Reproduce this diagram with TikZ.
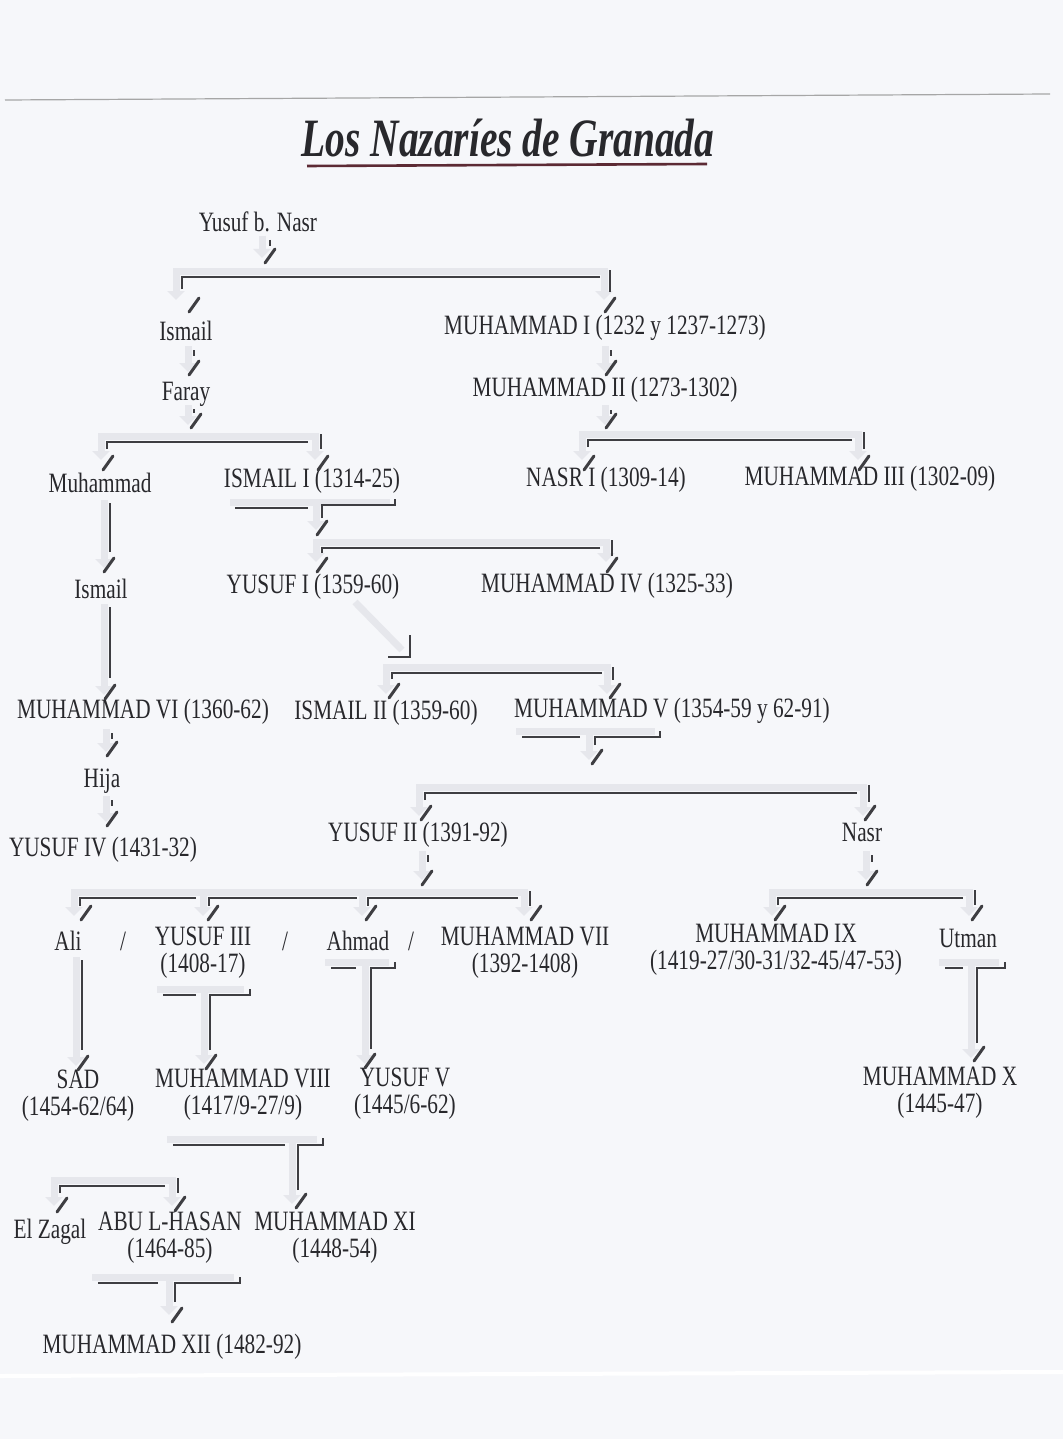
\documentclass[tikz,border=0pt]{standalone}
\usepackage{fontspec}
\setmainfont{Liberation Serif}[FakeStretch=0.76]
\newfontfamily\titlefont{Liberation Serif}[FakeStretch=0.73]
\usetikzlibrary{arrows.meta}
\definecolor{paper}{RGB}{246,247,250}
\definecolor{ink}{RGB}{40,40,44}
\definecolor{linec}{RGB}{62,62,66}
\definecolor{shc}{RGB}{230,231,236}
\definecolor{ulc}{RGB}{92,42,52}
\newcommand\slmark[1]{\draw[slashmark] (#1) ++(-5,7) -- ++(10,-14);}
\begin{document}
\begin{tikzpicture}[x=1pt,y=-1pt,
  person/.style={inner sep=0pt, text=ink, font=\fontsize{28}{27}\selectfont, align=center},
  link/.style={draw=linec, line width=2.2pt},
  tickmark/.style={draw=linec, line width=2pt},
  slashmark/.style={draw=linec, line width=3pt, line cap=round},
  shadow/.style={draw=shc, line width=7pt, {Triangle[length=9pt,width=17pt]}-{Triangle[length=9pt,width=17pt]}},
  shadowend/.style={draw=shc, line width=7pt, -{Triangle[length=9pt,width=17pt]}},
  shadowline/.style={draw=shc, line width=7pt},
]
\useasboundingbox (0,0) rectangle (1063,1439);
\fill[paper] (0,0) rectangle (1063,1439);
\draw[gray!70, line width=1.2pt] (5,100) -- (1050,94);
\draw[white, line width=4pt] (0,1376) -- (1063,1372);

% ---------- title ----------
\node[inner sep=0pt, text=ink, font=\titlefont\fontsize{54}{56}\selectfont\bfseries\itshape] (title) at (508,138) {Los Nazaríes de Granada};
\draw[ulc, line width=2.6pt] (307,166) -- (707,164);

% ---------- shadows ----------
\draw[shadowend] (262,236) -- (262,258);
\draw[shadow] (176,300) -- (176,271) -- (604,271) -- (604,300);
\draw[shadowend] (188,346) -- (188,372);
\draw[shadowend] (605,346) -- (605,372);
\draw[shadowend] (188,405) -- (188,425);
\draw[shadowend] (605,405) -- (605,425);
\draw[shadow] (101,460) -- (101,436) -- (315,436) -- (315,460);
\draw[shadow] (582,460) -- (582,434) -- (858,434) -- (858,460);
\draw[shadowline] (230,502) -- (390,502);
\draw[shadowend] (316,502) -- (316,530);
\draw[shadow] (316,562) -- (316,542) -- (606,542) -- (606,562);
\draw[shadowend] (104,500) -- (104,568);
\draw[shadowend] (104,604) -- (104,695);
\draw[shadowline] (355,602) -- (402,650);
\draw[shadow] (386,694) -- (386,667) -- (607,667) -- (607,694);
\draw[shadowend] (106,729) -- (106,752);
\draw[shadowend] (106,796) -- (106,822);
\draw[shadowline] (516,731) -- (655,731);
\draw[shadowend] (589,731) -- (589,760);
\draw[shadow] (419,816) -- (419,787) -- (863,787) -- (863,816);
\draw[shadowend] (422,851) -- (422,880);
\draw[shadowend] (866,851) -- (866,880);
\draw[shadow] (74,916) -- (74,892) -- (524,892) -- (524,916);
\draw[shadowend] (203,892) -- (203,916);
\draw[shadowend] (362,892) -- (362,916);
\draw[shadow] (772,916) -- (772,892) -- (969,892) -- (969,916);
\draw[shadowend] (76,957) -- (76,1066);
\draw[shadowline] (157,989) -- (244,989);
\draw[shadowend] (204,989) -- (204,1064);
\draw[shadowline] (325,962) -- (389,962);
\draw[shadowend] (365,962) -- (365,1064);
\draw[shadowline] (939,962) -- (999,962);
\draw[shadowend] (971,962) -- (971,1058);
\draw[shadowline] (167,1139) -- (317,1139);
\draw[shadowend] (292,1139) -- (292,1204);
\draw[shadow] (54,1206) -- (54,1180) -- (172,1180) -- (172,1206);
\draw[shadowline] (92,1277) -- (234,1277);
\draw[shadowend] (169,1277) -- (169,1315);

% ---------- persons ----------
\node[person] (yusufbn) at (258,222) {Yusuf b. Nasr};
\node[person] (ismailA) at (186,331) {Ismail};
\node[person] (muh1) at (605,328) {MUHAMMAD I (1232 y 1237-1273)};
\node[person] (faray) at (186,394) {Faray};
\node[person] (muh2) at (605,390) {MUHAMMAD II (1273-1302)};
\node[person] (muhammad) at (100,483) {Muhammad};
\node[person] (ismailI) at (312,481) {ISMAIL I (1314-25)};
\node[person] (nasrI) at (606,480) {NASR I (1309-14)};
\node[person] (muh3) at (870,479) {MUHAMMAD III (1302-09)};
\node[person] (ismailB) at (101,589) {Ismail};
\node[person] (yusufI) at (313,587) {YUSUF I (1359-60)};
\node[person] (muh4) at (607,586) {MUHAMMAD IV (1325-33)};
\node[person] (muh6) at (143,712) {MUHAMMAD VI (1360-62)};
\node[person] (ismailII) at (386,713) {ISMAIL II (1359-60)};
\node[person] (muh5) at (672,711) {MUHAMMAD V (1354-59 y 62-91)};
\node[person] (hija) at (102,781) {Hija};
\node[person] (yusufIV) at (103,850) {YUSUF IV (1431-32)};
\node[person] (yusufII) at (418,835) {YUSUF II (1391-92)};
\node[person] (nasr) at (862,832) {Nasr};
\node[person] (ali) at (68,941) {Ali};
\node[person] (sepA) at (123,941) {/};
\node[person] (yusufIII) at (203,953) {YUSUF III\\(1408-17)};
\node[person] (sepB) at (285,941) {/};
\node[person] (ahmad) at (358,941) {Ahmad};
\node[person] (sepC) at (411,941) {/};
\node[person] (muh7) at (525,953) {MUHAMMAD VII\\(1392-1408)};
\node[person] (muh9) at (776,950) {MUHAMMAD IX\\(1419-27/30-31/32-45/47-53)};
\node[person] (utman) at (968,938) {Utman};
\node[person] (sad) at (78,1096) {SAD\\(1454-62/64)};
\node[person] (muh8) at (243,1095) {MUHAMMAD VIII\\(1417/9-27/9)};
\node[person] (yusufV) at (405,1094) {YUSUF V\\(1445/6-62)};
\node[person] (muh10) at (940,1093) {MUHAMMAD X\\(1445-47)};
\node[person] (elzagal) at (50,1232) {El Zagal};
\node[person] (abu) at (170,1238) {ABU L-HASAN\\(1464-85)};
\node[person] (muh11) at (335,1238) {MUHAMMAD XI\\(1448-54)};
\node[person] (muh12) at (172,1347) {MUHAMMAD XII (1482-92)};

% ---------- slash marks (arrival points) ----------
\coordinate (s-yusufbn) at (270,256);
\coordinate (s-ismailA) at (194,305);
\coordinate (s-muh1) at (610,305);
\coordinate (s-faray) at (194,368);
\coordinate (s-muh2) at (611,368);
\coordinate (s-farayout) at (196,421);
\coordinate (s-muh2out) at (611,421);
\coordinate (s-muhammad) at (108,463);
\coordinate (s-ismailI) at (323,463);
\coordinate (s-nasrI) at (589,463);
\coordinate (s-muh3) at (864,463);
\coordinate (s-ismailIout) at (322,528);
\coordinate (s-yusufI) at (322,565);
\coordinate (s-muh4) at (612,565);
\coordinate (s-ismailB) at (109,565);
\coordinate (s-muh6) at (110,692);
\coordinate (s-ismailII) at (394,691);
\coordinate (s-muh5) at (615,691);
\coordinate (s-hija) at (112,749);
\coordinate (s-yusufIV) at (112,819);
\coordinate (s-muh5out) at (597,757);
\coordinate (s-yusufII) at (426,813);
\coordinate (s-nasr) at (870,813);
\coordinate (s-yusufIIout) at (427,878);
\coordinate (s-nasrout) at (872,878);
\coordinate (s-ali) at (86,913);
\coordinate (s-yusufIII) at (213,913);
\coordinate (s-ahmad) at (371,913);
\coordinate (s-muh7) at (536,913);
\coordinate (s-muh9) at (780,913);
\coordinate (s-utman) at (977,913);
\coordinate (s-sad) at (83,1063);
\coordinate (s-muh8) at (211,1062);
\coordinate (s-yusufV) at (370,1061);
\coordinate (s-muh10) at (979,1054);
\coordinate (s-muh11) at (301,1201);
\coordinate (s-elzagal) at (62,1205);
\coordinate (s-abu) at (180,1204);
\coordinate (s-muh12) at (177,1315);

% ---------- connectors ----------
\draw[tickmark] (270,240) -- (270,246);
\slmark{s-yusufbn}
\draw[link] (182,289) -- (182,277) -- (600,277);
\draw[tickmark] (610,270) -- (610,292);
\slmark{s-ismailA} \slmark{s-muh1}
\draw[tickmark] (194,350) -- (194,356); \slmark{s-faray}
\draw[tickmark] (611,350) -- (611,356); \slmark{s-muh2}
\draw[tickmark] (194,409) -- (194,413); \slmark{s-farayout}
\draw[link] (107,449) -- (107,442) -- (308,442);
\draw[tickmark] (321,434) -- (321,449);
\slmark{s-muhammad} \slmark{s-ismailI}
\draw[tickmark] (611,410) -- (611,414); \slmark{s-muh2out}
\draw[link] (588,447) -- (588,440) -- (852,440);
\draw[tickmark] (864,432) -- (864,449);
\slmark{s-nasrI} \slmark{s-muh3}
\draw[link] (235,508) -- (308,508);
\draw[link] (322,518) -- (322,505) -- (395,505) -- (395,499);
\slmark{s-ismailIout}
\draw[link] (322,553) -- (322,548) -- (600,548);
\draw[tickmark] (612,540) -- (612,556);
\slmark{s-yusufI} \slmark{s-muh4}
\draw[link] (110,503) -- (110,552); \slmark{s-ismailB}
\draw[link] (110,607) -- (110,678); \slmark{s-muh6}
\draw[link] (388,657) -- (410,657) -- (410,635);
\draw[link] (392,679) -- (392,673) -- (602,673);
\draw[tickmark] (613,667) -- (613,680);
\slmark{s-ismailII} \slmark{s-muh5}
\draw[tickmark] (112,733) -- (112,739); \slmark{s-hija}
\draw[tickmark] (112,800) -- (112,806); \slmark{s-yusufIV}
\draw[link] (522,737) -- (580,737);
\draw[link] (595,745) -- (595,737) -- (660,737) -- (660,731);
\slmark{s-muh5out}
\draw[link] (425,800) -- (425,793) -- (857,793);
\draw[tickmark] (869,785) -- (869,802);
\slmark{s-yusufII} \slmark{s-nasr}
\draw[tickmark] (428,855) -- (428,862); \slmark{s-yusufIIout}
\draw[link] (80,906) -- (80,898) -- (196,898);
\draw[link] (209,906) -- (209,898) -- (357,898);
\draw[link] (368,906) -- (368,898) -- (518,898);
\draw[tickmark] (530,891) -- (530,906);
\slmark{s-ali} \slmark{s-yusufIII} \slmark{s-ahmad} \slmark{s-muh7}
\draw[tickmark] (872,855) -- (872,862); \slmark{s-nasrout}
\draw[link] (778,905) -- (778,898) -- (963,898);
\draw[tickmark] (975,890) -- (975,905);
\slmark{s-muh9} \slmark{s-utman}
\draw[link] (82,960) -- (82,1050); \slmark{s-sad}
\draw[link] (163,995) -- (196,995);
\draw[link] (210,1050) -- (210,995) -- (250,995) -- (250,989);
\slmark{s-muh8}
\draw[link] (331,968) -- (356,968);
\draw[link] (371,1049) -- (371,968) -- (395,968) -- (395,962);
\slmark{s-yusufV}
\draw[link] (945,968) -- (963,968);
\draw[link] (977,1043) -- (977,968) -- (1005,968) -- (1005,962);
\slmark{s-muh10}
\draw[link] (173,1145) -- (285,1145);
\draw[link] (298,1190) -- (298,1145) -- (323,1145) -- (323,1138);
\slmark{s-muh11}
\draw[link] (60,1193) -- (60,1186) -- (165,1186);
\draw[tickmark] (178,1178) -- (178,1193);
\slmark{s-elzagal} \slmark{s-abu}
\draw[link] (98,1283) -- (158,1283);
\draw[link] (175,1302) -- (175,1283) -- (240,1283) -- (240,1277);
\slmark{s-muh12}
\end{tikzpicture}
\end{document}
